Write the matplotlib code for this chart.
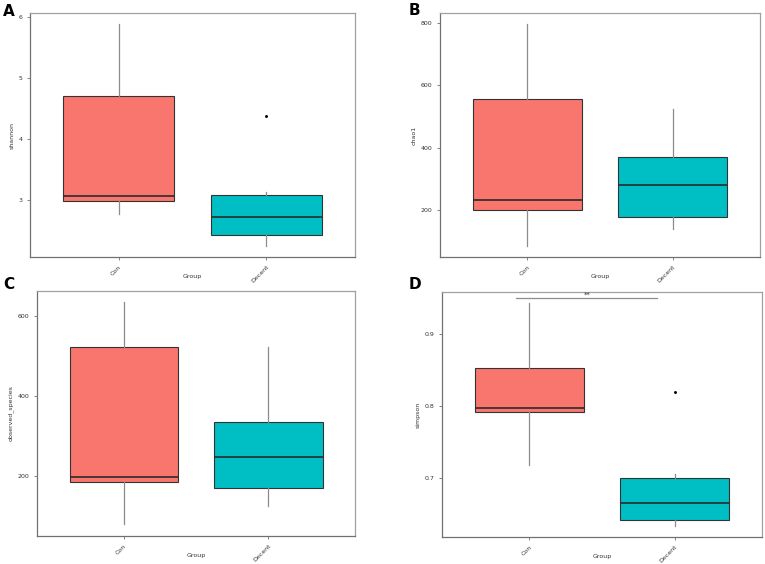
import matplotlib
matplotlib.use('Agg')
import matplotlib.pyplot as plt

groups = ['Con', 'Decent']
colors = ['#F8766D', '#00BFC4']

# whislo, q1, median, q3, whishi per group
shannon = [[2.78, 2.98, 3.07, 4.71, 5.88], [2.25, 2.43, 2.73, 3.09, 3.14]]
shannon_out = [[], [4.38]]
chao1 = [[85, 200, 234, 557, 796], [140, 178, 282, 370, 523]]
chao1_out = [[], []]
observed = [[79, 186, 197, 522, 634], [126, 169, 247, 335, 523]]
observed_out = [[], []]
simpson = [[0.718, 0.791, 0.797, 0.853, 0.943], [0.633, 0.641, 0.664, 0.699, 0.705]]
simpson_out = [[], [0.820]]

W, H = 765, 564
panels = [
    ('A', 'shannon', shannon, shannon_out, [3, 4, 5, 6], (2.07, 6.06), [0.0392, 0.5443, 0.4248, 0.4326], (3, 4)),
    ('B', 'chao1', chao1, chao1_out, [200, 400, 600, 800], (50, 831), [0.5752, 0.5443, 0.4183, 0.4326], (409, 3)),
    ('C', 'observed_species', observed, observed_out, [200, 400, 600], (50, 662), [0.0484, 0.0496, 0.4157, 0.4344], (3, 277)),
    ('D', 'simpson', simpson, simpson_out, [0.7, 0.8, 0.9], (0.617, 0.959), [0.5778, 0.0479, 0.4183, 0.4344], (409, 277)),
]

fig = plt.figure(figsize=(W / 100, H / 100), dpi=100)

for letter, ylab, data, outs, yticks, ylim, pos, lpos in panels:
    ax = fig.add_axes(pos)
    stats = []
    for g, s, o in zip(groups, data, outs):
        stats.append({'label': g, 'whislo': s[0], 'q1': s[1], 'med': s[2],
                      'q3': s[3], 'whishi': s[4], 'fliers': o})
    bp = ax.bxp(stats, positions=[1, 2], widths=0.75, patch_artist=True,
                showcaps=False,
                boxprops=dict(edgecolor='#333333', linewidth=0.8),
                medianprops=dict(color='#2b2b2b', linewidth=1.2),
                whiskerprops=dict(color='#8c8c8c', linewidth=0.9),
                flierprops=dict(marker='o', markersize=1.1, markerfacecolor='black',
                                markeredgecolor='black'))
    for patch, c in zip(bp['boxes'], colors):
        patch.set_facecolor(c)
    ax.set_xlim(0.4, 2.6)
    ax.set_ylim(*ylim)
    ax.set_yticks(yticks)
    ax.set_yticklabels([str(t) for t in yticks])
    ax.set_xticks([1, 2])
    ax.set_xticklabels(groups, rotation=45, ha='right', rotation_mode='anchor')
    ax.tick_params(labelsize=4.5, length=2, width=0.5, colors='#555555', labelcolor='#333333')
    ax.set_ylabel(ylab, fontsize=4.5, color='#333333', labelpad=3)
    ax.set_xlabel('Group', fontsize=4.5, color='#333333')
    ax.xaxis.set_label_coords(0.5, -0.068)
    for side in ['top', 'right']:
        ax.spines[side].set_color('#a0a0a0')
        ax.spines[side].set_linewidth(0.9)
    for side in ['left', 'bottom']:
        ax.spines[side].set_color('#707070')
        ax.spines[side].set_linewidth(0.9)
    fig.text(lpos[0] / W, 1 - lpos[1] / H, letter, fontsize=11,
             fontweight='bold', ha='left', va='top')

    if letter == 'D':
        ax.plot([0.91, 1.88], [0.951, 0.951], color='#8c8c8c', linewidth=0.9)
        ax.text(1.395, 0.951, '**', fontsize=5, ha='center', va='bottom', color='#333333')

fig.savefig('out.png', dpi=100)
